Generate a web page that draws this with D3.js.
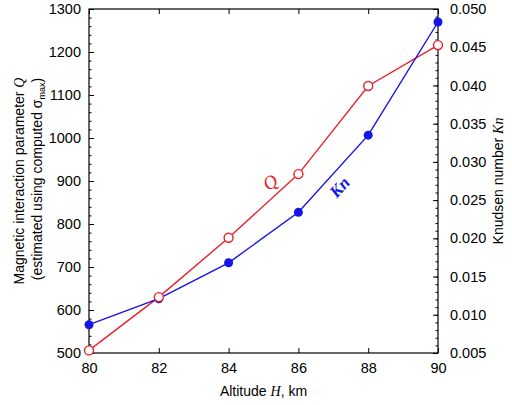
<!DOCTYPE html>
<html>
<head>
<meta charset="utf-8">
<script src="https://cdn.jsdelivr.net/npm/d3@7"></script>
<style>
  body { margin: 0; background: #fff; }
  svg { font-family: "Liberation Sans", Arial, sans-serif; }
</style>
</head>
<body>
<div id="chart"></div>
<script>
// altitude H, km
const altitude = [80, 82, 84, 86, 88, 90];
// magnetic interaction parameter Q (left axis)
const qValues = [506, 630, 768, 916, 1121, 1216];
// Knudsen number Kn (right axis)
const knValues = [0.0087, 0.0121, 0.0168, 0.0234, 0.0335, 0.0483];

const xTicks = [80, 82, 84, 86, 88, 90];
const qTicks = [500, 600, 700, 800, 900, 1000, 1100, 1200, 1300];
const knTicks = [0.005, 0.010, 0.015, 0.020, 0.025, 0.030, 0.035, 0.040, 0.045, 0.050];

const width = 512, height = 405;
const margin = {top: 9, right: 74, bottom: 52, left: 89};

const svg = d3.select("#chart").append("svg")
    .attr("width", width)
    .attr("height", height)
    .attr("viewBox", [0, 0, width, height]);

const x = d3.scaleLinear().domain([80, 90])
    .range([margin.left, width - margin.right]);
const yQ = d3.scaleLinear().domain([500, 1300])
    .range([height - margin.bottom, margin.top]);
const yKn = d3.scaleLinear().domain([0.005, 0.050])
    .range([height - margin.bottom, margin.top]);

const red = "#e8202a", blue = "#1414e6";

// frame
svg.append("rect")
    .attr("x", margin.left).attr("y", margin.top)
    .attr("width", x.range()[1] - margin.left)
    .attr("height", yQ.range()[0] - margin.top)
    .attr("fill", "none").attr("stroke", "#000").attr("stroke-width", 1.2);

const styleAxis = g => {
    g.select(".domain").remove();
    g.selectAll(".tick text").attr("font-size", 14.5).attr("fill", "#000");
};

// bottom axis (ticks inward)
svg.append("g")
    .attr("transform", `translate(0,${yQ.range()[0]})`)
    .call(d3.axisBottom(x).tickValues(xTicks).tickSizeInner(-5).tickSizeOuter(0).tickPadding(10))
    .call(styleAxis);

// top ticks
svg.append("g")
    .attr("transform", `translate(0,${margin.top})`)
    .call(d3.axisTop(x).tickValues(xTicks).tickSizeInner(-5).tickSizeOuter(0).tickFormat(""))
    .call(g => g.select(".domain").remove());

// left axis, minor then major
svg.append("g")
    .attr("transform", `translate(${margin.left},0)`)
    .call(d3.axisLeft(yQ).tickValues(d3.range(500, 1301, 20)).tickSizeInner(-2.5).tickSizeOuter(0).tickFormat(""))
    .call(g => g.select(".domain").remove());
svg.append("g")
    .attr("transform", `translate(${margin.left},0)`)
    .call(d3.axisLeft(yQ).tickValues(qTicks).tickSizeInner(-5).tickSizeOuter(0).tickPadding(8).tickFormat(d3.format("d")))
    .call(styleAxis);

// right axis
svg.append("g")
    .attr("transform", `translate(${x.range()[1]},0)`)
    .call(d3.axisRight(yKn).tickValues(d3.range(5, 51, 1).map(d => d / 1000)).tickSizeInner(-2.5).tickSizeOuter(0).tickFormat(""))
    .call(g => g.select(".domain").remove());
svg.append("g")
    .attr("transform", `translate(${x.range()[1]},0)`)
    .call(d3.axisRight(yKn).tickValues(knTicks).tickSizeInner(-5).tickSizeOuter(0).tickPadding(12).tickFormat(d3.format(".3f")))
    .call(styleAxis);

// lines
svg.append("path")
    .datum(altitude)
    .attr("fill", "none").attr("stroke", red).attr("stroke-width", 1.4)
    .attr("d", d3.line().x(d => x(d)).y((d, i) => yQ(qValues[i])));

svg.append("path")
    .datum(altitude)
    .attr("fill", "none").attr("stroke", blue).attr("stroke-width", 1.4)
    .attr("d", d3.line().x(d => x(d)).y((d, i) => yKn(knValues[i])));

svg.append("g")
    .selectAll("circle")
    .data(altitude)
    .join("circle")
    .attr("cx", d => x(d))
    .attr("cy", (d, i) => yKn(knValues[i]))
    .attr("r", 4.5)
    .attr("fill", blue);

svg.append("g")
    .selectAll("circle")
    .data(altitude)
    .join("circle")
    .attr("cx", d => x(d))
    .attr("cy", (d, i) => yQ(qValues[i]))
    .attr("r", 4.5)
    .attr("fill", "#fff")
    .attr("stroke", red)
    .attr("stroke-width", 1.4);

// series labels
svg.append("text")
    .attr("transform", `translate(${x(85.3)},${yQ(885)}) rotate(-35)`)
    .attr("font-family", "Liberation Serif, serif")
    .attr("font-style", "italic")
    .attr("font-size", 19)
    .attr("fill", red)
    .attr("text-anchor", "middle")
    .text("Q");

svg.append("text")
    .attr("transform", `translate(${x(87.3)},${yKn(0.0262)}) rotate(-48)`)
    .attr("font-family", "Liberation Serif, serif")
    .attr("font-style", "italic")
    .attr("font-weight", "bold")
    .attr("font-size", 17)
    .attr("fill", blue)
    .attr("text-anchor", "middle")
    .text("Kn");

// axis titles
const xt = svg.append("text")
    .attr("x", (x.range()[0] + x.range()[1]) / 2)
    .attr("y", 396)
    .attr("text-anchor", "middle")
    .attr("font-size", 14);
xt.append("tspan").text("Altitude ");
xt.append("tspan").attr("font-style", "italic").attr("font-family", "Liberation Serif, serif").text("H");
xt.append("tspan").text(", km");

const yt = svg.append("text")
    .attr("transform", `translate(24,${(yQ.range()[0] + yQ.range()[1]) / 2}) rotate(-90)`)
    .attr("text-anchor", "middle")
    .attr("font-size", 14);
yt.append("tspan").text("Magnetic interaction parameter ");
yt.append("tspan").attr("font-style", "italic").attr("font-family", "Liberation Serif, serif").text("Q");

const yt2 = svg.append("text")
    .attr("transform", `translate(42,${(yQ.range()[0] + yQ.range()[1]) / 2 - 2}) rotate(-90)`)
    .attr("text-anchor", "middle")
    .attr("font-size", 14);
yt2.append("tspan").text("(estimated using computed σ");
yt2.append("tspan").attr("font-size", 9).attr("dy", 3).text("max");
yt2.append("tspan").attr("dy", -3).text(")");

const yr = svg.append("text")
    .attr("transform", `translate(503,${yKn(0.0275)}) rotate(-90)`)
    .attr("text-anchor", "middle")
    .attr("font-size", 14);
yr.append("tspan").text("Knudsen number ");
yr.append("tspan").attr("font-style", "italic").attr("font-family", "Liberation Serif, serif").text("Kn");
</script>
</body>
</html>
